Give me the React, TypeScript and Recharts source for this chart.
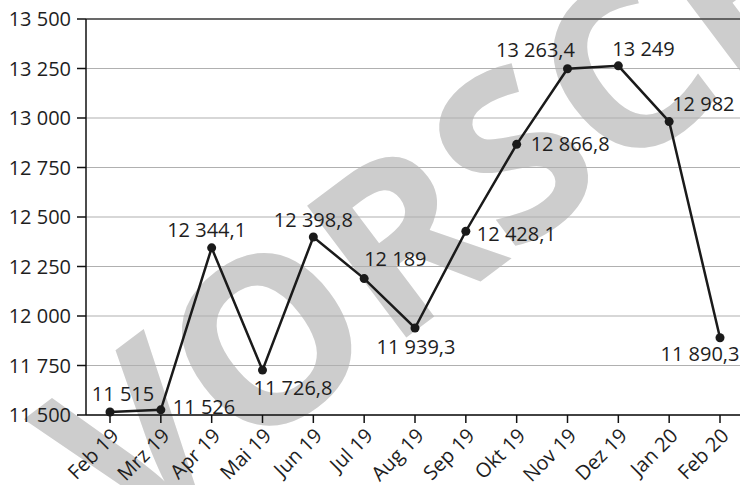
import { LineChart, Line, XAxis, YAxis, CartesianGrid, ReferenceLine, LabelList } from 'recharts';

const months = ['Feb 19', 'Mrz 19', 'Apr 19', 'Mai 19', 'Jun 19', 'Jul 19', 'Aug 19', 'Sep 19', 'Okt 19', 'Nov 19', 'Dez 19', 'Jan 20', 'Feb 20'];
const values = [11515, 11526, 12344.1, 11726.8, 12398.8, 12189, 11939.3, 12428.1, 12866.8, 13249, 13263.4, 12982, 11890.3];
const valueLabels = ['11 515', '11 526', '12 344,1', '11 726,8', '12 398,8', '12 189', '11 939,3', '12 428,1', '12 866,8', '13 263,4', '13 249', '12 982', '11 890,3'];
const yTicks = [11500, 11750, 12000, 12250, 12500, 12750, 13000, 13250, 13500];

const data = months.map((m, i) => ({ month: m, value: values[i], label: valueLabels[i] }));

// where each value label sits relative to its point
const placement: { anchor: 'start' | 'middle' | 'end'; dx: number; dy: number }[] = [
  { anchor: 'middle', dx: 13, dy: -11 },
  { anchor: 'start', dx: 12, dy: 4 },
  { anchor: 'middle', dx: -5, dy: -11 },
  { anchor: 'start', dx: -9, dy: 25 },
  { anchor: 'middle', dx: 0, dy: -10 },
  { anchor: 'start', dx: 0, dy: -13 },
  { anchor: 'middle', dx: 1, dy: 26 },
  { anchor: 'start', dx: 11, dy: 10 },
  { anchor: 'start', dx: 14, dy: 7 },
  { anchor: 'middle', dx: -32, dy: -12 },
  { anchor: 'start', dx: -6, dy: -10 },
  { anchor: 'start', dx: 3, dy: -11 },
  { anchor: 'middle', dx: -20, dy: 23 },
];

const FONT = '"Open Sans", sans-serif';
const TEXT = '#1e1e1e';

const fmtTick = (v: number) => `${Math.floor(v / 1000)} ${String(v % 1000).padStart(3, '0')}`;

const MonthTick = (props: any) => {
  const { x, y, payload } = props;
  const tx = x + 10;
  const ty = y + 12;
  return (
    <text x={tx} y={ty} transform={`rotate(-45, ${tx}, ${ty})`} textAnchor="end" fill={TEXT} fontSize={20} fontFamily={FONT}>
      {payload.value}
    </text>
  );
};

const ValueLabel = (props: any) => {
  const { x, y, index, value } = props;
  const p = placement[index];
  return (
    <text x={x + p.dx} y={y + p.dy} textAnchor={p.anchor} fill={TEXT} fontSize={20} fontFamily={FONT}>
      {value}
    </text>
  );
};

const Watermark = () => (
  <svg width={740} height={485} style={{ position: 'absolute', left: 0, top: 0 }}>
    <text
      x={123}
      y={551}
      transform="rotate(-37, 123, 551)"
      fontSize={231}
      fontWeight={700}
      fontFamily={FONT}
      fill="#cdcdcd"
    >
      VORSCHAU
    </text>
  </svg>
);

export default function App() {
  return (
    <div style={{ position: 'absolute', left: 0, top: 0, width: 740, height: 485, background: '#fff', overflow: 'hidden' }}>
      <Watermark />
      <div style={{ position: 'absolute', left: 0, top: 0 }}>
        <LineChart width={740} height={485} data={data} margin={{ top: 19, right: 0, bottom: 0, left: 0 }}>
          <CartesianGrid vertical={false} stroke="#b0b0b0" strokeWidth={1.2} />
          <ReferenceLine y={13500} stroke="#444" strokeWidth={1.5} />
          <XAxis
            dataKey="month"
            height={70}
            padding={{ left: 24, right: 20 }}
            axisLine={{ stroke: '#111', strokeWidth: 1.5 }}
            tickLine={{ stroke: '#111', strokeWidth: 1.5 }}
            tickSize={8}
            tickMargin={2}
            interval={0}
            tick={<MonthTick />}
          />
          <YAxis
            width={86}
            domain={[11500, 13500]}
            ticks={yTicks}
            tickFormatter={fmtTick}
            axisLine={{ stroke: '#111', strokeWidth: 1.5 }}
            tickLine={{ stroke: '#111', strokeWidth: 1.5 }}
            tickSize={9}
            tickMargin={6}
            tick={{ fill: TEXT, fontSize: 20, fontFamily: FONT }}
          />
          <Line
            type="linear"
            dataKey="value"
            stroke="#1a1a1a"
            strokeWidth={2.5}
            dot={{ r: 4.5, fill: '#1a1a1a', strokeWidth: 0 }}
            isAnimationActive={false}
          >
            <LabelList dataKey="label" content={<ValueLabel />} />
          </Line>
        </LineChart>
      </div>
    </div>
  );
}
